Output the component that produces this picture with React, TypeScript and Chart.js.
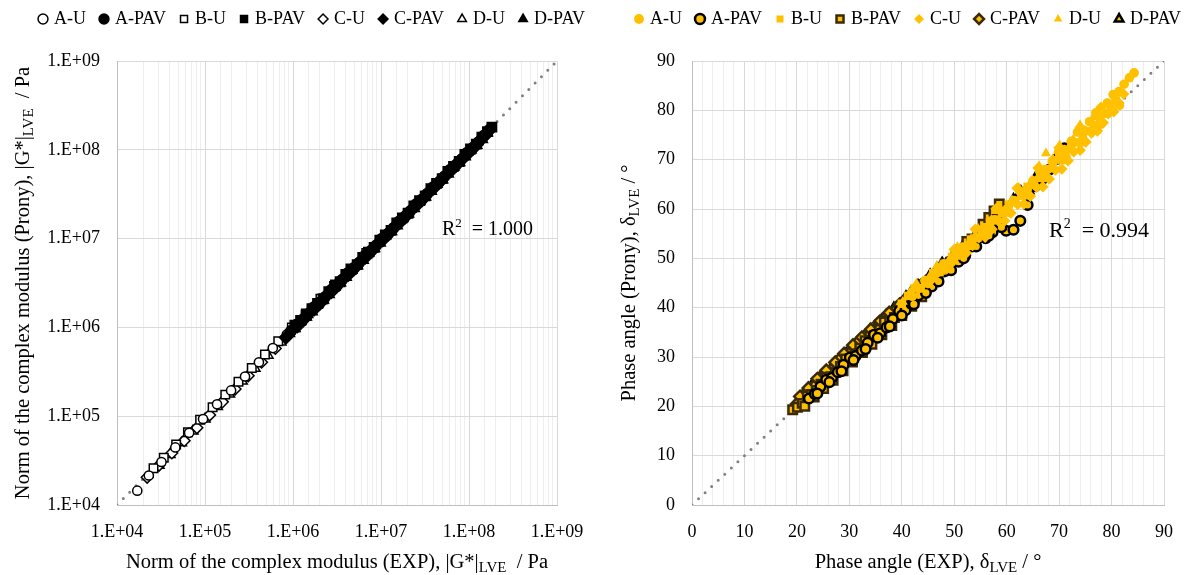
import React, { useEffect, useRef } from 'react';
import { Chart, registerables } from 'chart.js';

Chart.register(...registerables);

const FONT = '"Liberation Serif", "Times New Roman", serif';

// ---------- shared ----------
const SERIES_NAMES = ['A-U', 'A-PAV', 'B-U', 'B-PAV', 'C-U', 'C-PAV', 'D-U', 'D-PAV'];
const POINT_STYLES = ['circle', 'circle', 'rect', 'rect', 'rectRot', 'rectRot', 'triangle', 'triangle'];

// ---------- left chart: |G*| (Pa), EXP vs Prony ----------
const G_TICKS = [1e4, 1e5, 1e6, 1e7, 1e8, 1e9];
const G_TICK_LABELS = ['1.E+04', '1.E+05', '1.E+06', '1.E+07', '1.E+08', '1.E+09'];

const G_AU_EXP = [1.7e4, 2.3e4, 3.2e4, 4.6e4, 6.6e4, 9.5e4, 1.37e5, 1.98e5, 2.85e5, 4.1e5, 5.9e5, 8.5e5, 1.25e6, 1.85e6, 2.8e6, 4.3e6, 6.6e6, 1.02e7];
const G_AU_PRONY = [1.45e4, 2.15e4, 3.05e4, 4.45e4, 6.5e4, 9.3e4, 1.36e5, 1.95e5, 2.8e5, 4.05e5, 5.85e5, 8.3e5, 1.22e6, 1.8e6, 2.75e6, 4.2e6, 6.4e6, 9.9e6];
const G_APAV_EXP = [9.5e5, 1.1e6, 1.28e6, 1.48e6, 1.72e6, 2.0e6, 2.32e6, 2.69e6, 3.12e6, 3.62e6, 4.2e6, 4.87e6, 5.65e6, 6.55e6, 7.6e6, 8.8e6, 1.02e7, 1.19e7, 1.38e7, 1.6e7, 1.85e7, 2.15e7, 2.5e7, 2.9e7, 3.36e7, 3.9e7, 4.52e7, 5.25e7, 6.1e7, 7.05e7, 8.2e7, 9.5e7, 1.1e8, 1.28e8, 1.48e8, 1.72e8];
const G_APAV_PRONY = [9.1e5, 1.08e6, 1.21e6, 1.41e6, 1.69e6, 1.88e6, 2.2e6, 2.63e6, 2.95e6, 3.44e6, 4.1e6, 4.6e6, 5.35e6, 6.4e6, 7.2e6, 8.35e6, 9.95e6, 1.12e7, 1.31e7, 1.56e7, 1.75e7, 2.04e7, 2.44e7, 2.75e7, 3.2e7, 3.8e7, 4.3e7, 5.0e7, 5.95e7, 6.7e7, 7.8e7, 9.3e7, 1.05e8, 1.22e8, 1.45e8, 1.7e8];
const G_BU_EXP = [2.6e4, 3.4e4, 4.7e4, 6.4e4, 8.8e4, 1.22e5, 1.7e5, 2.4e5, 3.4e5, 4.8e5, 6.8e5, 9.7e5, 1.4e6, 2.05e6, 3.0e6, 4.5e6, 6.8e6];
const G_BU_PRONY = [2.6e4, 3.4e4, 4.8e4, 6.6e4, 9.1e4, 1.26e5, 1.75e5, 2.45e5, 3.5e5, 4.95e5, 7.0e5, 1.0e6, 1.43e6, 2.1e6, 3.05e6, 4.6e6, 6.9e6];
const G_BPAV_EXP = [1.05e6, 1.22e6, 1.41e6, 1.64e6, 1.9e6, 2.2e6, 2.55e6, 2.96e6, 3.43e6, 3.98e6, 4.62e6, 5.36e6, 6.2e6, 7.2e6, 8.35e6, 9.7e6, 1.12e7, 1.3e7, 1.51e7, 1.75e7, 2.03e7, 2.36e7, 2.74e7, 3.18e7, 3.69e7, 4.28e7, 4.96e7, 5.75e7, 6.67e7, 7.74e7, 8.98e7, 1.04e8, 1.21e8, 1.4e8, 1.62e8, 1.82e8];
const G_BPAV_PRONY = [1.06e6, 1.2e6, 1.36e6, 1.63e6, 1.86e6, 2.1e6, 2.52e6, 2.9e6, 3.27e6, 3.95e6, 4.5e6, 5.1e6, 6.15e6, 7.05e6, 7.95e6, 9.6e6, 1.1e7, 1.24e7, 1.5e7, 1.71e7, 1.93e7, 2.34e7, 2.68e7, 3.03e7, 3.66e7, 4.18e7, 4.73e7, 5.7e7, 6.52e7, 7.38e7, 8.9e7, 1.02e8, 1.16e8, 1.39e8, 1.6e8, 1.8e8];
const G_CU_EXP = [2.2e4, 3.0e4, 4.2e4, 5.8e4, 8.1e4, 1.13e5, 1.58e5, 2.2e5, 3.1e5, 4.4e5, 6.3e5, 9.0e5, 1.3e6, 1.9e6, 2.8e6, 4.2e6, 6.3e6];
const G_CU_PRONY = [2.05e4, 2.8e4, 3.85e4, 5.3e4, 7.4e4, 1.03e5, 1.45e5, 2.02e5, 2.85e5, 4.05e5, 5.8e5, 8.3e5, 1.2e6, 1.76e6, 2.6e6, 3.9e6, 5.9e6];
const G_CPAV_EXP = [8.3e5, 9.6e5, 1.12e6, 1.3e6, 1.5e6, 1.74e6, 2.02e6, 2.35e6, 2.72e6, 3.16e6, 3.66e6, 4.25e6, 4.93e6, 5.72e6, 6.63e6, 7.7e6, 8.93e6, 1.04e7, 1.2e7, 1.39e7, 1.62e7, 1.88e7, 2.18e7, 2.52e7, 2.93e7, 3.4e7, 3.94e7, 4.57e7, 5.3e7, 6.15e7, 7.13e7, 8.27e7, 9.6e7, 1.11e8, 1.29e8, 1.5e8];
const G_CPAV_PRONY = [7.7e5, 9.2e5, 1.03e6, 1.2e6, 1.44e6, 1.6e6, 1.86e6, 2.25e6, 2.5e6, 2.92e6, 3.5e6, 3.92e6, 4.55e6, 5.47e6, 6.1e6, 7.1e6, 8.55e6, 9.6e6, 1.11e7, 1.33e7, 1.5e7, 1.74e7, 2.09e7, 2.34e7, 2.72e7, 3.26e7, 3.66e7, 4.25e7, 5.08e7, 5.72e7, 6.64e7, 7.95e7, 8.9e7, 1.03e8, 1.24e8, 1.42e8];
const G_DU_EXP = [3.0e4, 4.0e4, 5.4e4, 7.3e4, 1.0e5, 1.38e5, 1.9e5, 2.65e5, 3.7e5, 5.2e5, 7.3e5, 1.03e6, 1.47e6, 2.1e6, 3.1e6, 4.6e6, 6.9e6];
const G_DU_PRONY = [2.8e4, 3.7e4, 5.0e4, 6.8e4, 9.3e4, 1.28e5, 1.77e5, 2.48e5, 3.45e5, 4.85e5, 6.85e5, 9.7e5, 1.39e6, 2.0e6, 2.95e6, 4.4e6, 6.6e6];
const G_DPAV_EXP = [9.0e5, 1.04e6, 1.21e6, 1.4e6, 1.63e6, 1.89e6, 2.19e6, 2.54e6, 2.95e6, 3.42e6, 3.97e6, 4.6e6, 5.34e6, 6.2e6, 7.19e6, 8.34e6, 9.67e6, 1.12e7, 1.3e7, 1.51e7, 1.75e7, 2.03e7, 2.36e7, 2.73e7, 3.17e7, 3.68e7, 4.27e7, 4.95e7, 5.74e7, 6.66e7, 7.73e7, 8.96e7, 1.04e8, 1.21e8, 1.4e8, 1.6e8];
const G_DPAV_PRONY = [8.6e5, 9.8e5, 1.17e6, 1.32e6, 1.51e6, 1.82e6, 2.05e6, 2.36e6, 2.84e6, 3.2e6, 3.69e6, 4.43e6, 4.98e6, 5.75e6, 6.92e6, 7.8e6, 8.98e6, 1.08e7, 1.21e7, 1.4e7, 1.69e7, 1.9e7, 2.2e7, 2.63e7, 2.96e7, 3.43e7, 4.12e7, 4.63e7, 5.36e7, 6.42e7, 7.23e7, 8.38e7, 1.0e8, 1.13e8, 1.31e8, 1.56e8];
const G_EQUALITY = [1e4, 1e9];
const G_R2 = '1.000';

// ---------- right chart: phase angle (deg), EXP vs Prony ----------
const PHASE_MIN = 0;
const PHASE_MAX = 90;
const PHASE_TICK_LABELS = ['0', '10', '20', '30', '40', '50', '60', '70', '80', '90'];

const D_AU_EXP = [42.0, 43.2, 44.4, 45.6, 46.8, 48.0, 49.2, 50.4, 51.6, 52.8, 54.0, 55.2, 56.5, 57.7, 58.9, 60.1, 61.4, 62.6, 63.8, 65.0, 66.3, 67.5, 68.7, 69.9, 71.1, 72.3, 73.5, 74.7, 75.8, 77.0, 78.1, 79.2, 80.3, 81.4, 82.4, 83.4, 84.3, 60.5, 64.0, 67.5, 71.0, 74.5, 78.0, 81.5];
const D_AU_PRONY = [42.3, 43.9, 45.5, 45.8, 47.3, 48.9, 49.1, 50.6, 52.3, 52.6, 54.1, 55.8, 56.2, 57.8, 59.6, 60.0, 61.7, 63.5, 63.9, 65.7, 67.6, 67.9, 69.7, 71.6, 71.9, 73.7, 75.6, 76.0, 77.7, 79.5, 79.8, 81.5, 83.2, 83.8, 85.3, 86.6, 87.6, 59.3, 62.9, 66.4, 70.0, 73.6, 77.2, 81.0];
const D_APAV_EXP = [22.3, 23.4, 24.5, 25.6, 26.7, 27.8, 28.9, 30.1, 31.2, 32.4, 33.5, 34.7, 35.9, 37.1, 38.3, 39.5, 40.7, 41.9, 43.2, 44.4, 45.7, 46.9, 48.2, 49.5, 50.8, 52.1, 53.4, 54.7, 56.0, 57.3, 58.6, 59.9, 61.3, 62.6, 64.0, 65.4, 66.8, 68.2, 69.6, 71.0, 23.9, 26.2, 28.5, 30.8, 33.1, 35.4, 37.7, 40.0, 42.3, 44.6, 47.0, 49.4, 51.8, 54.2, 56.6, 59.0];
const D_APAV_PRONY = [21.6, 22.5, 24.0, 25.4, 25.8, 26.9, 28.4, 29.9, 30.2, 31.3, 32.9, 34.5, 34.8, 36.0, 37.7, 39.3, 39.5, 40.7, 42.5, 44.2, 44.3, 45.6, 47.4, 49.2, 49.3, 50.6, 52.4, 54.3, 54.1, 55.3, 57.2, 55.6, 55.8, 57.6, 60.8, 64.6, 66.1, 68.0, 70.2, 72.3, 22.6, 24.9, 27.1, 29.4, 31.6, 33.9, 36.2, 38.4, 40.7, 43.0, 45.3, 47.6, 50.0, 52.4, 54.6, 56.3];
const D_BU_EXP = [40.0, 41.2, 42.4, 43.6, 44.8, 46.0, 47.2, 48.4, 49.6, 50.8, 52.0, 53.2, 54.4, 55.6, 56.8, 58.0, 59.2, 60.4, 61.6, 62.8, 64.0, 65.2, 66.4, 67.6, 68.8, 70.0, 71.1, 72.3, 73.4, 74.5, 75.6, 76.7, 77.8, 78.8, 79.8, 80.8];
const D_BU_PRONY = [40.8, 42.4, 43.9, 43.9, 45.3, 47.0, 47.2, 48.6, 50.3, 50.6, 52.0, 53.8, 54.2, 55.5, 57.3, 57.8, 59.1, 60.9, 61.4, 62.7, 64.5, 65.0, 66.3, 68.1, 68.7, 70.0, 71.7, 72.3, 73.5, 75.1, 75.8, 77.0, 78.5, 79.3, 80.6, 82.0];
const D_BPAV_EXP = [19.2, 20.1, 21.0, 22.0, 22.8, 23.7, 24.6, 25.6, 26.5, 27.4, 28.3, 29.3, 30.2, 31.1, 32.0, 33.0, 33.9, 34.8, 35.8, 36.7, 37.7, 38.6, 39.6, 40.5, 41.5, 42.4, 43.4, 44.3, 45.3, 46.3, 47.3, 48.3, 49.3, 50.3, 51.3, 52.4, 53.4, 54.5, 55.5, 56.6, 57.6, 58.6, 21.5, 23.3, 25.1, 26.9, 28.8, 30.6, 32.5, 34.3, 36.2, 38.1, 40.0, 41.9, 43.8];
const D_BPAV_PRONY = [19.3, 19.8, 20.6, 22.1, 22.4, 23.2, 24.5, 25.9, 26.0, 26.9, 28.1, 29.6, 29.7, 30.6, 31.8, 33.3, 33.4, 34.3, 35.6, 37.1, 37.2, 38.0, 39.3, 40.8, 41.0, 41.9, 43.2, 44.6, 44.9, 45.9, 47.3, 48.8, 49.2, 50.3, 51.8, 53.4, 53.9, 55.2, 56.9, 58.3, 59.6, 61.0, 20.0, 21.9, 23.6, 25.3, 27.2, 29.0, 30.9, 32.6, 34.5, 36.4, 38.4, 40.3, 42.2];
const D_CU_EXP = [45.0, 46.2, 47.4, 48.6, 49.8, 51.0, 52.3, 53.5, 54.7, 55.9, 57.2, 58.4, 59.6, 60.8, 62.1, 63.3, 64.5, 65.7, 66.9, 68.1, 69.3, 70.5, 71.7, 72.8, 74.0, 75.1, 76.2, 77.3, 78.4, 79.4, 80.4, 81.4, 82.3, 50.0, 54.0, 58.0, 62.0, 66.0, 70.0, 74.0, 78.0];
const D_CU_PRONY = [45.0, 46.4, 47.9, 47.9, 49.4, 50.9, 51.1, 52.6, 54.2, 54.3, 55.9, 57.6, 57.6, 59.2, 60.9, 61.0, 62.6, 64.4, 64.5, 66.1, 67.9, 68.1, 69.8, 71.6, 71.9, 73.6, 75.4, 75.8, 77.5, 79.3, 79.7, 81.5, 83.3, 51.8, 55.9, 60.1, 64.2, 68.3, 72.4, 76.5, 80.6];
const D_CPAV_EXP = [20.0, 20.9, 21.8, 22.7, 23.6, 24.5, 25.4, 26.3, 27.2, 28.2, 29.1, 30.0, 31.0, 31.9, 32.9, 33.8, 34.8, 35.7, 36.7, 37.7, 38.6, 39.6, 40.6, 41.6, 42.6, 43.6, 44.6, 45.6, 46.6, 47.7, 48.7, 49.7, 50.8, 51.8, 52.9, 53.9, 55.0, 56.0, 20.6, 22.2, 23.9, 25.6, 27.3, 29.0, 30.7, 32.4, 34.1, 35.9, 37.6];
const D_CPAV_PRONY = [20.5, 21.8, 22.9, 23.5, 24.4, 25.9, 26.8, 27.2, 28.0, 29.6, 30.5, 30.8, 31.9, 33.3, 34.2, 34.4, 35.6, 37.0, 37.8, 38.2, 39.3, 40.7, 41.6, 41.9, 43.1, 44.5, 45.3, 45.6, 46.8, 48.2, 49.0, 49.3, 50.6, 52.0, 52.8, 53.2, 54.6, 55.9, 22.0, 23.7, 25.6, 27.3, 28.9, 30.7, 32.4, 34.0, 35.6, 37.3, 39.0];
const D_DU_EXP = [40.2, 41.5, 42.8, 44.1, 45.4, 46.7, 48.0, 49.3, 50.6, 51.9, 53.2, 54.5, 55.8, 57.1, 58.4, 59.7, 61.0, 62.3, 63.6, 64.9, 66.2, 67.5, 68.8, 70.1, 71.4, 72.7, 74.0, 75.3, 76.5, 77.7];
const D_DU_PRONY = [41.2, 43.0, 44.9, 44.6, 46.5, 48.5, 48.2, 50.2, 52.3, 51.8, 53.9, 56.1, 55.6, 57.8, 60.0, 59.4, 61.8, 64.3, 63.3, 65.9, 68.7, 71.3, 70.1, 72.9, 71.2, 74.1, 77.0, 75.6, 78.6, 80.3];
const D_DPAV_EXP = [21.0, 22.1, 23.2, 24.3, 25.4, 26.5, 27.6, 28.7, 29.9, 31.0, 32.2, 33.3, 34.5, 35.7, 36.9, 38.1, 39.3, 40.5, 41.7, 43.0, 44.2, 45.5, 46.7, 48.0, 49.3, 50.6, 51.9, 53.2, 54.5, 55.8, 57.2, 58.5, 59.9, 61.3, 62.7, 64.1, 65.5, 22.7, 25.0, 27.2, 29.4, 31.6, 33.9, 36.2, 38.5, 40.8, 43.1, 45.4, 47.7];
const D_DPAV_PRONY = [21.4, 22.9, 24.3, 24.6, 25.9, 27.4, 28.8, 29.0, 30.4, 31.9, 33.4, 33.6, 35.0, 36.6, 38.2, 38.3, 39.7, 41.3, 42.9, 43.2, 44.6, 46.3, 47.8, 48.0, 49.5, 51.2, 52.8, 53.0, 54.6, 56.3, 58.0, 58.3, 60.0, 61.8, 63.4, 63.8, 66.2, 23.9, 26.3, 28.5, 30.6, 32.9, 35.3, 37.4, 39.8, 42.1, 44.4, 46.5, 48.9];
const D_EQUALITY = [0, 90];
const D_R2 = '0.994';

// ---------- helpers ----------
const pts = (xs: number[], ys: number[]) => xs.map((x, i) => ({ x, y: ys[i] }));

const RADIUS_U: Record<string, number> = { circle: 4.6, rect: 6, rectRot: 5.8, triangle: 5.8 };
const RADIUS_PAV: Record<string, number> = { circle: 5.2, rect: 6.6, rectRot: 6.4, triangle: 6.4 };
const RADIUS_RIGHT: Record<string, number> = { circle: 4.8, rect: 6, rectRot: 5.8, triangle: 5.8 };

type Part = { t: string; s: number; dy?: number };
type TextItem = { parts: Part[]; at: (ca: any) => [number, number]; align: 'left' | 'center'; rot?: number };

function drawRich(ctx: CanvasRenderingContext2D, item: TextItem, ca: any) {
  const [x, y] = item.at(ca);
  ctx.save();
  ctx.translate(x, y);
  if (item.rot) ctx.rotate(item.rot);
  ctx.textBaseline = 'alphabetic';
  ctx.textAlign = 'left';
  ctx.fillStyle = '#000';
  const widths = item.parts.map((p) => {
    ctx.font = `${p.s}px ${FONT}`;
    return ctx.measureText(p.t).width;
  });
  const total = widths.reduce((a, b) => a + b, 0);
  let cx = item.align === 'center' ? -total / 2 : 0;
  item.parts.forEach((p, i) => {
    ctx.font = `${p.s}px ${FONT}`;
    ctx.fillText(p.t, cx, p.dy || 0);
    cx += widths[i];
  });
  ctx.restore();
}

const textPlugin = (items: TextItem[]) => ({
  id: 'richText',
  afterDraw(chart: any) {
    items.forEach((it) => drawRich(chart.ctx, it, chart.chartArea));
  },
});

const isPow10 = (v: number) => {
  const l = Math.log10(v);
  return Math.abs(l - Math.round(l)) < 1e-9;
};

const legendOpts = {
  position: 'top',
  align: 'start',
  labels: {
    usePointStyle: true,
    boxWidth: 4,
    boxHeight: 7,
    padding: 16,
    color: '#000',
    font: { family: FONT, size: 18 },
    filter: (it: any) => it.datasetIndex < 8,
    sort: (a: any, b: any) => a.datasetIndex - b.datasetIndex,
  },
};

const dummyTop = (h: number) => ({
  type: 'linear',
  position: 'top',
  display: true,
  grid: { display: false, drawTicks: false },
  border: { display: false },
  ticks: { display: false },
  afterFit: (s: any) => { s.height = h; },
});
const dummyRight = (w: number) => ({
  type: 'linear',
  position: 'right',
  display: true,
  grid: { display: false, drawTicks: false },
  border: { display: false },
  ticks: { display: false },
  afterFit: (s: any) => { s.width = w; },
});

const tickFont = { family: FONT, size: 18 };
const TITLE = 20.5;
const SUB = 15;
const MAJOR = '#d9d9d9';
const MINOR = '#eeeeee';
const AXIS = '#bfbfbf';

// ---------- left config ----------
function leftConfig(): any {
  const series = [
    [G_AU_EXP, G_AU_PRONY], [G_APAV_EXP, G_APAV_PRONY],
    [G_BU_EXP, G_BU_PRONY], [G_BPAV_EXP, G_BPAV_PRONY],
    [G_CU_EXP, G_CU_PRONY], [G_CPAV_EXP, G_CPAV_PRONY],
    [G_DU_EXP, G_DU_PRONY], [G_DPAV_EXP, G_DPAV_PRONY],
  ];
  const datasets: any[] = series.map(([xs, ys], i) => {
    const pav = i % 2 === 1;
    const st = POINT_STYLES[i];
    return {
      label: SERIES_NAMES[i],
      data: pts(xs, ys),
      pointStyle: st,
      pointRadius: pav ? RADIUS_PAV[st] : RADIUS_U[st],
      pointBackgroundColor: pav ? '#000' : '#fff',
      backgroundColor: pav ? '#000' : '#fff',
      pointBorderColor: '#000',
      borderColor: '#000',
      pointBorderWidth: 1.5,
      borderWidth: 1.5,
      showLine: false,
      order: pav ? 5 : 10,
    };
  });
  datasets.push({
    type: 'line',
    label: '1:1',
    data: pts(G_EQUALITY, G_EQUALITY),
    borderColor: '#808080',
    borderWidth: 3,
    borderDash: [0, 9],
    borderCapStyle: 'round',
    pointRadius: 0,
    showLine: true,
    fill: false,
    order: 20,
  });
  const items: TextItem[] = [
    {
      parts: [{ t: 'Norm of the complex modulus (EXP), |G*|', s: TITLE }, { t: 'LVE', s: SUB, dy: 4 }, { t: '  / Pa', s: TITLE }],
      at: (ca) => [(ca.left + ca.right) / 2, 568], align: 'center',
    },
    {
      parts: [{ t: 'Norm of the complex modulus (Prony), |G*|', s: TITLE }, { t: 'LVE', s: SUB, dy: 4 }, { t: '  / Pa', s: TITLE }],
      at: (ca) => [29, (ca.top + ca.bottom) / 2], align: 'center', rot: -Math.PI / 2,
    },
    {
      parts: [{ t: 'R', s: 20 }, { t: '2', s: 13, dy: -8 }, { t: '  = ' + G_R2, s: 20 }],
      at: () => [442, 235], align: 'left',
    },
  ];
  return {
    type: 'scatter',
    data: { datasets },
    options: {
      responsive: false,
      animation: false,
      events: [],
      layout: { padding: { left: 25, right: -40, top: -6, bottom: 0 } },
      plugins: { legend: legendOpts, tooltip: { enabled: false } },
      scales: {
        x: {
          type: 'logarithmic',
          min: G_TICKS[0],
          max: G_TICKS[G_TICKS.length - 1],
          grid: { color: (c: any) => (c.tick && isPow10(c.tick.value) ? MAJOR : MINOR), drawTicks: false },
          border: { color: AXIS },
          ticks: {
            autoSkip: false, maxRotation: 0, padding: 16, color: '#000', font: tickFont,
            callback: (v: number) => { const k = G_TICKS.findIndex((t) => Math.abs(t - v) / t < 1e-9); return k >= 0 ? G_TICK_LABELS[k] : ''; },
          },
          afterFit: (s: any) => { s.height = 70; },
        },
        y: {
          type: 'logarithmic',
          min: G_TICKS[0],
          max: G_TICKS[G_TICKS.length - 1],
          afterBuildTicks: (s: any) => { s.ticks = G_TICKS.map((v) => ({ value: v })); },
          grid: { color: MAJOR, drawTicks: false },
          border: { color: AXIS },
          ticks: {
            autoSkip: false, padding: 17, color: '#000', font: tickFont,
            callback: (v: number) => { const k = G_TICKS.findIndex((t) => Math.abs(t - v) / t < 1e-9); return k >= 0 ? G_TICK_LABELS[k] : ''; },
          },
          afterFit: (s: any) => { s.width = 92; },
        },
        xTop: dummyTop(23),
        yRight: dummyRight(84),
      },
    },
    plugins: [textPlugin(items)],
  };
}

// ---------- right config ----------
function rightConfig(): any {
  const series = [
    [D_AU_EXP, D_AU_PRONY], [D_APAV_EXP, D_APAV_PRONY],
    [D_BU_EXP, D_BU_PRONY], [D_BPAV_EXP, D_BPAV_PRONY],
    [D_CU_EXP, D_CU_PRONY], [D_CPAV_EXP, D_CPAV_PRONY],
    [D_DU_EXP, D_DU_PRONY], [D_DPAV_EXP, D_DPAV_PRONY],
  ];
  const pavBorder = ['#000000', '#3b2a08', '#3b2a08', '#000000'];
  const datasets: any[] = series.map(([xs, ys], i) => {
    const pav = i % 2 === 1;
    const st = POINT_STYLES[i];
    const bc = pav ? pavBorder[Math.floor(i / 2)] : '#FFC000';
    return {
      label: SERIES_NAMES[i],
      data: pts(xs, ys),
      pointStyle: st,
      pointRadius: RADIUS_RIGHT[st],
      pointBackgroundColor: '#FFC000',
      backgroundColor: '#FFC000',
      pointBorderColor: bc,
      borderColor: bc,
      pointBorderWidth: pav ? 2.5 : 0,
      borderWidth: pav ? 2.5 : 0,
      showLine: false,
      order: pav ? 10 : 5,
    };
  });
  datasets.push({
    type: 'line',
    label: '1:1',
    data: pts(D_EQUALITY, D_EQUALITY),
    borderColor: '#808080',
    borderWidth: 3,
    borderDash: [0, 9],
    borderCapStyle: 'round',
    pointRadius: 0,
    showLine: true,
    fill: false,
    order: 20,
  });
  const items: TextItem[] = [
    {
      parts: [{ t: 'Phase angle (EXP), \u03B4', s: TITLE }, { t: 'LVE', s: SUB, dy: 4 }, { t: ' / \u00B0', s: TITLE }],
      at: (ca) => [(ca.left + ca.right) / 2, 568], align: 'center',
    },
    {
      parts: [{ t: 'Phase angle (Prony), \u03B4', s: TITLE }, { t: 'LVE', s: SUB, dy: 4 }, { t: ' / \u00B0', s: TITLE }],
      at: (ca) => [34, (ca.top + ca.bottom) / 2], align: 'center', rot: -Math.PI / 2,
    },
    {
      parts: [{ t: 'R', s: 22 }, { t: '2', s: 14, dy: -9 }, { t: '  = ' + D_R2, s: 22 }],
      at: () => [448, 237], align: 'left',
    },
  ];
  const phaseLabel = (v: number) => {
    const k = PHASE_TICK_LABELS.indexOf(String(v));
    return k >= 0 ? PHASE_TICK_LABELS[k] : '';
  };
  return {
    type: 'scatter',
    data: { datasets },
    options: {
      responsive: false,
      animation: false,
      events: [],
      layout: { padding: { left: 20, right: -40, top: -6, bottom: 0 } },
      plugins: { legend: legendOpts, tooltip: { enabled: false } },
      scales: {
        x: {
          type: 'linear',
          min: PHASE_MIN,
          max: PHASE_MAX,
          grid: { color: (c: any) => (c.tick && c.tick.value % 10 === 0 ? MAJOR : MINOR), drawTicks: false },
          border: { color: AXIS },
          ticks: { stepSize: 2, autoSkip: false, maxRotation: 0, padding: 16, color: '#000', font: tickFont, callback: phaseLabel },
          afterFit: (s: any) => { s.height = 70; },
        },
        y: {
          type: 'linear',
          min: PHASE_MIN,
          max: PHASE_MAX,
          grid: { color: MAJOR, drawTicks: false },
          border: { color: AXIS },
          ticks: { stepSize: 10, autoSkip: false, padding: 17, color: '#000', font: tickFont, callback: phaseLabel },
          afterFit: (s: any) => { s.width = 71; },
        },
        xTop: dummyTop(23),
        yRight: dummyRight(78),
      },
    },
    plugins: [textPlugin(items)],
  };
}

function ChartCanvas({ make, left }: { make: () => any; left: number }) {
  const ref = useRef<HTMLCanvasElement | null>(null);
  useEffect(() => {
    if (!ref.current) return;
    const chart = new Chart(ref.current, make());
    return () => chart.destroy();
  }, []);
  return (
    <canvas
      ref={ref}
      width={601}
      height={575}
      style={{ position: 'absolute', left, top: 0, width: 601, height: 575, display: 'block' }}
    />
  );
}

export default function App() {
  return (
    <div style={{ position: 'fixed', left: 0, top: 0, width: 1202, height: 575, background: '#fff', overflow: 'hidden' }}>
      <ChartCanvas make={leftConfig} left={0} />
      <ChartCanvas make={rightConfig} left={601} />
    </div>
  );
}
